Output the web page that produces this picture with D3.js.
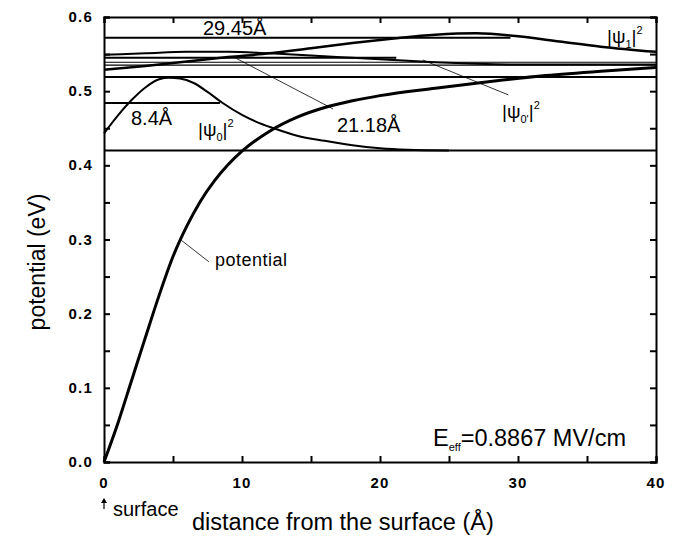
<!DOCTYPE html>
<html>
<head>
<meta charset="utf-8">
<script src="https://cdn.jsdelivr.net/npm/d3@7"></script>
<style>
  body { margin: 0; background: #fff; }
  svg { display: block; font-family: "Liberation Sans", Arial, sans-serif; }
</style>
</head>
<body>
<div id="chart"></div>
<script>
// potential curve (Å, eV)
const potential = [
  [0, 0], [1, 0.052], [2, 0.11], [3, 0.168], [4, 0.225], [5, 0.277], [6, 0.318],
  [7, 0.352], [8, 0.379], [9, 0.401], [10, 0.419], [12, 0.446], [14, 0.465],
  [16, 0.478], [18, 0.487], [20, 0.494], [24, 0.504], [28, 0.513], [32, 0.521],
  [36, 0.527], [40, 0.532]
];

// |psi0|^2 for the 8.4 Å state, drawn on its 0.42 eV baseline
const psi0 = [
  [0, 0.443], [1, 0.467], [2, 0.488], [3, 0.505], [4, 0.516], [4.7, 0.518],
  [5.5, 0.517], [6.5, 0.511], [7.5, 0.499], [8.6, 0.484], [10, 0.468],
  [11, 0.459], [12.3, 0.45], [14, 0.44], [16, 0.433], [18, 0.427],
  [20, 0.423], [22, 0.421], [25, 0.42]
];

// |psi0'|^2 for the 21.18 Å state
const psi0p = [
  [0, 0.549], [3, 0.551], [6, 0.553], [9, 0.553], [12, 0.551], [15, 0.548],
  [18, 0.545], [21, 0.542], [24, 0.539], [27, 0.537], [30, 0.536], [40, 0.536]
];

// |psi1|^2 for the 29.45 Å state
const psi1 = [
  [0, 0.529], [3, 0.534], [6, 0.54], [9, 0.546], [12, 0.551], [15, 0.558],
  [18, 0.565], [21, 0.571], [24, 0.576], [27, 0.578], [30, 0.574],
  [33, 0.567], [36, 0.56], [40, 0.553]
];

// full-width level lines (eV)
const levels = [0.519, 0.42, 0.539, 0.535];
// mean-distance markers: [distance Å, energy eV, label]
const markers = [[8.4, 0.484, "8.4Å"], [21.18, 0.545, "21.18Å"], [29.45, 0.572, "29.45Å"]];

const xTicks = [0, 10, 20, 30, 40];
const yTicks = [0, 0.1, 0.2, 0.3, 0.4, 0.5, 0.6];

const width = 682, height = 538;
const x = d3.scaleLinear().domain([0, 40]).range([104, 656]);
const y = d3.scaleLinear().domain([0, 0.6]).range([462, 17]);

const svg = d3.select("#chart").append("svg")
  .attr("width", width).attr("height", height);

const line = d3.line().x(d => x(d[0])).y(d => y(d[1])).curve(d3.curveMonotoneX);

// level lines
svg.selectAll(".level").data(levels).enter().append("line")
  .attr("x1", x(0)).attr("x2", x(40))
  .attr("y1", d => y(d)).attr("y2", d => y(d))
  .attr("stroke", "#000").attr("stroke-width", (d, i) => i < 2 ? 2 : 1.2);

// marker lines from the surface
svg.selectAll(".marker").data(markers).enter().append("line")
  .attr("x1", x(0)).attr("x2", d => x(d[0]))
  .attr("y1", d => y(d[1])).attr("y2", d => y(d[1]))
  .attr("stroke", "#000").attr("stroke-width", 2);

// curves
svg.append("path").datum(psi0p).attr("d", line)
  .attr("fill", "none").attr("stroke", "#000").attr("stroke-width", 2);
svg.append("path").datum(psi1).attr("d", line)
  .attr("fill", "none").attr("stroke", "#000").attr("stroke-width", 2.5);
svg.append("path").datum(psi0).attr("d", line)
  .attr("fill", "none").attr("stroke", "#000").attr("stroke-width", 2);
svg.append("path").datum(potential).attr("d", line)
  .attr("fill", "none").attr("stroke", "#000").attr("stroke-width", 3);

// axes frame with inward ticks
const axisG = svg.append("g");
axisG.append("g").attr("transform", `translate(0,${y(0)})`)
  .call(d3.axisBottom(x).tickValues(d3.range(0, 41, 5)).tickSize(-6).tickFormat(""));
axisG.append("g").attr("transform", `translate(0,${y(0.6)})`)
  .call(d3.axisTop(x).tickValues(d3.range(0, 41, 5)).tickSize(-6).tickFormat(""));
axisG.append("g").attr("transform", `translate(${x(0)},0)`)
  .call(d3.axisLeft(y).tickValues(d3.range(0, 0.61, 0.05)).tickSize(-6).tickFormat(""));
axisG.append("g").attr("transform", `translate(${x(40)},0)`)
  .call(d3.axisRight(y).tickValues(d3.range(0, 0.61, 0.05)).tickSize(-6).tickFormat(""));
axisG.selectAll("path.domain").attr("stroke", "#000").attr("stroke-width", 2);
axisG.selectAll(".tick line").attr("stroke", "#000").attr("stroke-width", 2);

// tick labels
svg.selectAll(".xl").data(xTicks).enter().append("text")
  .attr("x", d => x(d)).attr("y", 488)
  .attr("text-anchor", "middle").attr("font-size", 15).attr("font-weight", "bold")
  .attr("letter-spacing", 1.2)
  .text(d => d);
svg.selectAll(".yl").data(yTicks).enter().append("text")
  .attr("x", 93).attr("y", d => y(d) + 5)
  .attr("text-anchor", "end").attr("font-size", 15).attr("font-weight", "bold")
  .attr("letter-spacing", 1.2)
  .text(d => d.toFixed(1));

// axis titles
svg.append("text").attr("transform", "translate(45,262) rotate(-90)")
  .attr("text-anchor", "middle").attr("font-size", 23).text("potential (eV)");
svg.append("text").attr("x", 192).attr("y", 530)
  .attr("font-size", 23.5).text("distance from the surface (Å)");
svg.append("text").attr("x", 113).attr("y", 516).attr("font-size", 20).text("surface");
svg.append("line").attr("x1", 104).attr("x2", 104).attr("y1", 509).attr("y2", 500)
  .attr("stroke", "#000").attr("stroke-width", 1.2);
svg.append("path").attr("d", "M101,503 L104,498 L107,503 Z").attr("fill", "#000");

// annotations
const ann = svg.append("g").attr("font-size", 20);
ann.append("text").attr("x", 203).attr("y", 35).text(markers[2][2]);
ann.append("text").attr("x", 131).attr("y", 125).text(markers[0][2]);
ann.append("text").attr("x", 337).attr("y", 132).text(markers[1][2]);

function psiLabel(xp, yp, sub) {
  const t = svg.append("text").attr("x", xp).attr("y", yp).attr("font-size", 19);
  t.append("tspan").text("|ψ");
  t.append("tspan").attr("font-size", 11).attr("dy", 5).text(sub);
  t.append("tspan").attr("dy", -5).text("|");
  t.append("tspan").attr("font-size", 11).attr("dy", -9).text("2");
}
psiLabel(198, 136, "0");
psiLabel(502, 118, "0'");
psiLabel(607, 43, "1");

// pointer lines
const pointers = [[[9.5, 0.545], [16.6, 0.476]], [[23.1, 0.542], [29.3, 0.495]], [[5.6, 0.299], [7.6, 0.27]]];
svg.selectAll(".ptr").data(pointers).enter().append("line")
  .attr("x1", d => x(d[0][0])).attr("y1", d => y(d[0][1]))
  .attr("x2", d => x(d[1][0])).attr("y2", d => y(d[1][1]))
  .attr("stroke", "#000").attr("stroke-width", 0.8);

svg.append("text").attr("x", 215).attr("y", 266).attr("font-size", 18)
  .attr("letter-spacing", 0.5).text("potential");

const e = svg.append("text").attr("x", 433).attr("y", 446).attr("font-size", 23.5);
e.append("tspan").text("E");
e.append("tspan").attr("font-size", 11).attr("dy", 5).text("eff");
e.append("tspan").attr("dy", -5).text("=0.8867 MV/cm");
</script>
</body>
</html>
